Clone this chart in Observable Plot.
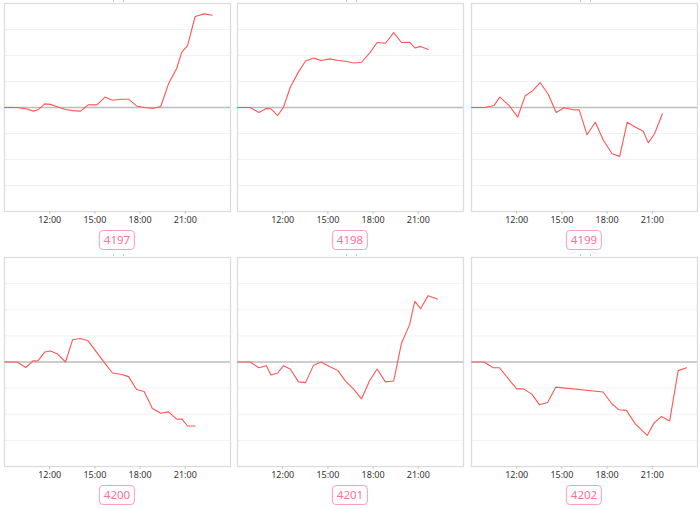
<!DOCTYPE html>
<html><head><meta charset="utf-8">
<script src="https://cdn.jsdelivr.net/npm/d3@7"></script>
<script src="https://cdn.jsdelivr.net/npm/@observablehq/plot@0.6"></script>
<style>
html,body{margin:0;padding:0;background:#fff;}
#root{position:relative;width:700px;height:509px;overflow:hidden;font-family:"Noto Sans",sans-serif;}
.panel{position:absolute;}
.lab{position:absolute;height:18px;line-height:18px;padding:0 4px;border:1px solid #ff9fba;border-radius:4px;color:#ff7097;font-size:11.5px;transform:translateX(-50%);background:#fff;}
.dot{position:absolute;width:1px;height:2px;background:#c8c8c8;}
</style></head><body><div id="root"></div>
<script>
// ---- data ----
const ids = ["4197", "4198", "4199", "4200", "4201", "4202"];
const xTickLabels = ["12:00", "15:00", "18:00", "21:00"];
const gridLevels = [-3, -2, -1, 1, 2, 3];

const t4197 = ["09:00","09:50","10:25","10:55","11:13","11:40","12:03","12:30","13:03","13:31","14:03","14:33","15:08","15:40","16:10","16:43","17:14","17:46","18:16","18:49","19:22","19:53","20:25","20:46","21:09","21:39","22:16","22:47"];
const v4197 = [0, 0, -0.05, -0.14, -0.09, 0.14, 0.12, 0.03, -0.08, -0.12, -0.14, 0.10, 0.10, 0.40, 0.28, 0.32, 0.32, 0.06, 0, -0.04, 0.04, 0.91, 1.49, 2.13, 2.38, 3.5, 3.6, 3.55];

const t4198 = ["09:00","09:50","10:25","10:55","11:13","11:40","12:03","12:30","13:03","13:31","14:03","14:33","15:08","15:40","16:10","16:43","17:14","17:46","18:16","18:49","19:22","19:53","20:25","20:46","21:09","21:39"];
const v4198 = [0, 0, -0.19, -0.04, -0.05, -0.31, 0.01, 0.78, 1.37, 1.79, 1.9, 1.81, 1.87, 1.81, 1.78, 1.71, 1.74, 2.09, 2.5, 2.47, 2.88, 2.5, 2.51, 2.29, 2.35, 2.23];

const t4199 = ["09:00","09:53","10:30","10:53","11:33","12:04","12:33","13:04","13:33","14:06","14:37","15:09","15:40","16:09","16:40","17:13","17:46","18:20","18:50","19:20","19:53","20:24","20:44","21:09","21:40"];
const v4199 = [0, 0, 0.08, 0.4, 0.04, -0.37, 0.44, 0.65, 0.96, 0.5, -0.19, -0.01, -0.08, -0.09, -1.05, -0.57, -1.28, -1.78, -1.88, -0.57, -0.76, -0.91, -1.36, -1.01, -0.24];

const t4200 = ["09:00","09:50","10:25","10:55","11:13","11:40","12:03","12:30","13:03","13:31","14:03","14:33","15:08","15:40","16:10","16:43","17:14","17:46","18:16","18:49","19:22","19:53","20:25","20:46","21:09","21:39"];
const v4200 = [0, 0, -0.21, 0.05, 0.04, 0.38, 0.42, 0.32, 0, 0.85, 0.9, 0.81, 0.36, -0.05, -0.42, -0.47, -0.56, -1.05, -1.13, -1.78, -1.96, -1.91, -2.19, -2.18, -2.45, -2.45];

const t4201 = ["09:00","09:50","10:25","10:55","11:13","11:40","12:03","12:30","13:03","13:31","14:03","14:33","15:08","15:40","16:10","16:43","17:14","17:46","18:16","18:49","19:22","19:53","20:25","20:46","21:09","21:39","22:16"];
const v4201 = [0, 0, -0.22, -0.14, -0.5, -0.42, -0.14, -0.27, -0.76, -0.79, -0.12, 0, -0.18, -0.33, -0.73, -1.05, -1.41, -0.72, -0.27, -0.76, -0.73, 0.72, 1.42, 2.32, 2.04, 2.54, 2.41];

const t4202 = ["09:00","09:49","10:27","10:51","12:00","12:27","13:00","13:31","14:03","14:36","17:44","18:17","18:47","19:17","19:53","20:40","21:07","21:36","22:09","22:43","23:16"];
const v4202 = [0, 0, -0.22, -0.22, -1.03, -1.03, -1.23, -1.64, -1.55, -0.96, -1.15, -1.58, -1.83, -1.85, -2.38, -2.81, -2.33, -2.09, -2.26, -0.33, -0.22];

const seriesTimes = {"4197": t4197, "4198": t4198, "4199": t4199, "4200": t4200, "4201": t4201, "4202": t4202};
const seriesValues = {"4197": v4197, "4198": v4198, "4199": v4199, "4200": v4200, "4201": v4201, "4202": v4202};

// ---- layout ----
const colLeft = [4, 237, 471], colRight = [230, 463, 697];
const rowTop = [3, 257], rowBottom = [211, 466];
const labelTop = [230, 485];
const mL = 4, mR = 2, mT = 3, mB = 20;

const T = s => { const [h, m] = s.split(":").map(Number); return new Date(Date.UTC(2020, 0, 1, h, m)); };
const xDomain = [T("09:00"), T("24:00")];

const root = document.getElementById("root");

ids.forEach((id, i) => {
  const c = i % 3, r = Math.floor(i / 3);
  const fl = colLeft[c], fr = colRight[c], ft = rowTop[r], fb = rowBottom[r];
  const data = seriesTimes[id].map((t, k) => ({t: T(t), v: seriesValues[id][k]}));
  const chart = Plot.plot({
    width: fr - fl + mL + mR,
    height: fb - ft + mT + mB,
    marginLeft: mL, marginRight: mR, marginTop: mT, marginBottom: mB,
    x: {type: "utc", domain: xDomain},
    y: {domain: [-4, 4], axis: null},
    style: {fontFamily: "'Noto Sans', sans-serif", fontSize: "9px", background: "transparent", color: "#333"},
    marks: [
      Plot.gridY(gridLevels, {stroke: "#f2f2f2", strokeOpacity: 1}),
      Plot.ruleY([0], {stroke: "#bdbdbd", strokeWidth: 1.5}),
      Plot.frame({stroke: "#dcdcdc", strokeWidth: 1.3}),
      Plot.axisX(xTickLabels.map(T), {tickSize: 3, tickPadding: 2, tickFormat: d3.utcFormat("%H:%M"), stroke: "#c8c8c8", fill: "#333", label: null}),
      Plot.line(data, {x: "t", y: "v", stroke: "#ff5656", strokeWidth: 1.1})
    ]
  });
  chart.classList.add("panel");
  chart.style.left = (fl - mL) + "px";
  chart.style.top = (ft - mT) + "px";
  root.appendChild(chart);

  const cx = (fl + fr) / 2;
  const lab = document.createElement("div");
  lab.className = "lab";
  lab.textContent = id;
  lab.style.left = cx + "px";
  lab.style.top = labelTop[r] + "px";
  root.appendChild(lab);

  // faint marks just above each frame
  [-4, 6].forEach(dx => {
    const d = document.createElement("div");
    d.className = "dot";
    d.style.left = (cx + dx) + "px";
    d.style.top = (ft - 3) + "px";
    root.appendChild(d);
  });
});
</script>
</body></html>
